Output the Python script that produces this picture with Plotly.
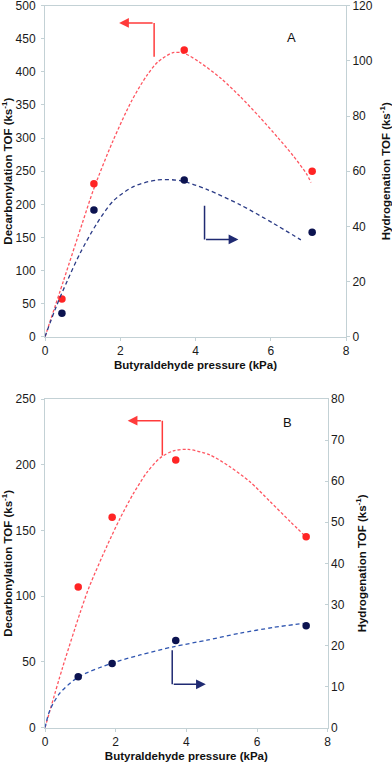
import plotly.graph_objects as go

# Panel A: measured points
A_PRESSURE = [0.45, 1.3, 3.7, 7.1]
A_DECARB = [57, 231, 433, 250]
A_HYDRO = [8.5, 45.9, 56.8, 37.9]

# Panel A: dashed fit lines
A_DECARB_FIT_X = [0, 0.5, 1.0, 1.3, 1.8, 2.3, 2.7, 3.0, 3.4, 3.7, 4.1, 4.7, 5.2, 5.7, 6.2, 6.6, 6.95, 7.07]
A_DECARB_FIT_Y = [0, 86, 173, 224, 295, 356, 394, 415, 429, 428, 415, 389, 362, 332, 300, 273, 246, 233]
A_HYDRO_FIT_X = [0, 0.3, 0.6, 0.93, 1.38, 1.82, 2.35, 2.97, 3.59, 4.3, 5.19, 6.07, 6.8]
A_HYDRO_FIT_Y = [0, 11, 20.5, 30.2, 41.1, 49.3, 54.4, 56.8, 56.6, 53.4, 47.8, 41.1, 35.1]

# Panel B: measured points
B_PRESSURE = [0.94, 1.9, 3.7, 7.39]
B_DECARB = [107, 160, 203.6, 145.3]
B_HYDRO = [12.4, 15.6, 21.2, 24.8]

# Panel B: dashed fit lines
B_DECARB_FIT_X = [0, 0.5, 1.0, 1.25, 1.75, 2.12, 2.5, 2.88, 3.25, 3.63, 4.05, 4.67, 5.23, 5.8, 6.37, 6.93, 7.35]
B_DECARB_FIT_Y = [0, 46, 88, 107, 138, 159, 178, 194, 205, 210.5, 211.7, 207.4, 198.5, 187, 172, 157, 146]
B_HYDRO_FIT_X = [0, 0.14, 0.42, 0.94, 1.89, 2.69, 3.63, 4.58, 5.52, 6.46, 7.31]
B_HYDRO_FIT_Y = [0, 4.3, 8.4, 12.3, 15.7, 17.7, 19.7, 21.3, 23.0, 24.4, 25.4]

RED = '#ff2424'
RED_LINE = '#ff5560'
NAVY = '#0c1350'
BLUE_LINE_A = '#2b3b86'
BLUE_LINE_B = '#2f55b0'
AXIS = '#c3d1d5'
FONT = 'Liberation Sans, Arial, sans-serif'

fig = go.Figure()


def add_panel(xa, ya_left, ya_right, fit_r, fit_b, pts, blue_line):
    # fit curves first so the dots sit on top
    fig.add_trace(go.Scatter(x=fit_r[0], y=fit_r[1], mode='lines',
                             line=dict(color=RED_LINE, width=1.3, dash='3px,2px',
                                       shape='spline', smoothing=0.8),
                             xaxis=xa, yaxis=ya_left))
    fig.add_trace(go.Scatter(x=fit_b[0], y=fit_b[1], mode='lines',
                             line=dict(color=blue_line, width=1.3, dash='4px,3px',
                                       shape='spline', smoothing=0.8),
                             xaxis=xa, yaxis=ya_right))
    fig.add_trace(go.Scatter(x=pts[0], y=pts[1], mode='markers',
                             marker=dict(color=RED, size=7.5),
                             xaxis=xa, yaxis=ya_left))
    fig.add_trace(go.Scatter(x=pts[0], y=pts[2], mode='markers',
                             marker=dict(color=NAVY, size=7.5),
                             xaxis=xa, yaxis=ya_right))


add_panel('x', 'y', 'y2', (A_DECARB_FIT_X, A_DECARB_FIT_Y), (A_HYDRO_FIT_X, A_HYDRO_FIT_Y),
          (A_PRESSURE, A_DECARB, A_HYDRO), BLUE_LINE_A)
add_panel('x2', 'y3', 'y4', (B_DECARB_FIT_X, B_DECARB_FIT_Y), (B_HYDRO_FIT_X, B_HYDRO_FIT_Y),
          (B_PRESSURE, B_DECARB, B_HYDRO), BLUE_LINE_B)

axis_common = dict(showline=True, linecolor=AXIS, linewidth=1, showgrid=False, zeroline=False,
                   ticks='outside', ticklen=3, tickcolor=AXIS, automargin=False,
                   ticklabeloverflow='allow',
                   tickfont=dict(family=FONT, size=12, color='#1a1a1a'))
title_font = dict(family=FONT, size=11.5, color='#111')
x_title = '<b>Butyraldehyde pressure (kPa)</b>'
left_title = '<b>Decarbonylation TOF (ks<sup>-1</sup>)</b>'
right_title = '<b>Hydrogenation TOF (ks<sup>-1</sup>)</b>'

fig.update_layout(
    width=392, height=766,
    margin=dict(l=0, r=0, t=0, b=0),
    paper_bgcolor='white', plot_bgcolor='white',
    showlegend=False, hovermode=False,
    xaxis=dict(domain=[0.1148, 0.8827], anchor='y', range=[0, 8], dtick=2, mirror=True,
               title=dict(text=x_title, font=title_font, standoff=3), **axis_common),
    yaxis=dict(domain=[0.5604, 0.9926], anchor='x', range=[0, 500], dtick=50,
               ticklabelstandoff=3,
               title=dict(text=left_title, font=title_font, standoff=4), **axis_common),
    yaxis2=dict(overlaying='y', anchor='x', side='right', range=[0, 120], dtick=20,
                title=dict(text=right_title, font=title_font, standoff=11), **axis_common),
    xaxis2=dict(domain=[0.1148, 0.836], anchor='y3', range=[0, 8], dtick=2, mirror=True,
                title=dict(text=x_title, font=title_font, standoff=3), **axis_common),
    yaxis3=dict(domain=[0.05, 0.4791], anchor='x2', range=[0, 250], dtick=50,
                ticklabelstandoff=3,
                title=dict(text=left_title, font=title_font, standoff=5), **axis_common),
    yaxis4=dict(overlaying='y3', anchor='x2', side='right', range=[0, 80], dtick=10,
                title=dict(text=right_title, font=title_font, standoff=14), **axis_common),
)
fig.update_layout(yaxis4_ticks='inside')

# panel letters
fig.add_annotation(text='A', x=6.55, y=452, xref='x', yref='y', showarrow=False,
                   font=dict(family=FONT, size=13, color='#111'))
fig.add_annotation(text='B', x=6.85, y=232, xref='x2', yref='y3', showarrow=False,
                   font=dict(family=FONT, size=13, color='#111'))


# "this curve belongs to that axis" arrows
def axis_arrow(xa, ya, x0, y0, y1, x1, color):
    fig.add_shape(type='line', xref=xa, yref=ya, x0=x0, y0=y0, x1=x0, y1=y1,
                  line=dict(color=color, width=1.5))
    fig.add_annotation(x=x1, y=y1, ax=x0, ay=y1, xref=xa, yref=ya, axref=xa, ayref=ya,
                       text='', showarrow=True, arrowhead=2, arrowsize=1.3,
                       arrowwidth=1.5, arrowcolor=color)


axis_arrow('x', 'y', 2.9, 423, 474, 1.97, '#ff3b3b')
axis_arrow('x', 'y', 4.24, 198, 147, 5.14, '#1f2a72')
axis_arrow('x2', 'y3', 3.32, 207, 233.5, 2.34, '#ff3b3b')
axis_arrow('x2', 'y3', 3.6, 59, 33, 4.55, '#1f2a72')

# drop the browser's default 8px body margin so the figure fills the window
fig.write_html("out.html", config={'displayModeBar': False},
               post_script="document.body.style.margin = '0';")
